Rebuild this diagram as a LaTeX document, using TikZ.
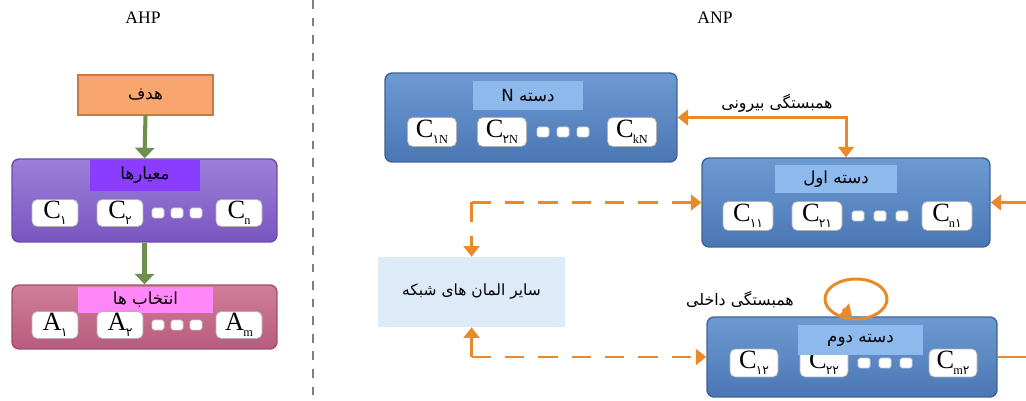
\documentclass[tikz,border=0pt]{standalone}
\usepackage{fontspec}
\setmainfont{Liberation Serif}
\newfontfamily\arabicfont[Script=Arabic]{DejaVu Sans}
\TeXXeTstate=1
\usetikzlibrary{arrows.meta,positioning}

\definecolor{goalfill}{HTML}{F9A66E}
\definecolor{goaldraw}{HTML}{C47C45}
\definecolor{bluetop}{HTML}{6E9AD2}
\definecolor{bluebot}{HTML}{4A77B4}
\definecolor{bluedraw}{HTML}{3D6394}
\definecolor{bluetitle}{HTML}{8DB9EC}
\definecolor{purptop}{HTML}{9C80D8}
\definecolor{purpbot}{HTML}{7A55C2}
\definecolor{purpdraw}{HTML}{6A4AA8}
\definecolor{purptitle}{HTML}{8B3DFF}
\definecolor{pinktop}{HTML}{D07E98}
\definecolor{pinkbot}{HTML}{B95B7D}
\definecolor{pinkdraw}{HTML}{A04D6B}
\definecolor{pinktitle}{HTML}{FF87F7}
\definecolor{otherfill}{HTML}{DDEBF8}
\definecolor{arrgreen}{HTML}{6F8F4F}
\definecolor{arrorange}{HTML}{E98A2A}

\newcommand{\fa}[1]{{\arabicfont\beginR #1\endR}}
\newcommand{\cel}[2]{#1\kern-0.5pt\raisebox{-3.5pt}{\fontsize{7}{7}\selectfont #2}}

\begin{document}
\begin{tikzpicture}[
    x=0.02cm, y=-0.02cm,
    panel/.style={draw, line width=0.8pt, rounded corners=4pt, inner sep=0pt},
    title/.style={inner sep=0pt, font=\fontsize{9.5}{11}\selectfont},
    elem/.style={draw=gray!60, fill=white, rounded corners=3pt, inner sep=0pt,
        minimum width=0.92cm, minimum height=0.54cm, font=\fontsize{15}{15}\selectfont},
    dot/.style={draw=gray!40, fill=white, rounded corners=1pt, inner sep=0pt,
        minimum width=0.24cm, minimum height=0.2cm},
    green arrow/.style={arrgreen, line width=2.3pt, -{Triangle[width=11pt,length=6pt]}},
    orange arrow/.style={arrorange, line width=1.7pt, -{Triangle[width=9pt,length=6pt]}},
    dash arrow/.style={orange arrow, dash pattern=on 11pt off 8pt}
]
    \useasboundingbox (0,0) rectangle (1026,401);

    % Headings and separator
    \node (ahp) at (143,18) {AHP};
    \node (anp) at (715,18) {ANP};
    \coordinate (septop) at (313,0);
    \coordinate (sepbot) at (313,401);
    \draw[gray, line width=1.2pt, dash pattern=on 5pt off 5pt] (septop) -- (sepbot);

    % AHP
    \node[draw=goaldraw, fill=goalfill, line width=0.6pt, minimum width=2.7cm, minimum height=0.8cm,
        font=\fontsize{9.5}{11}\selectfont] (goal) at (145.5,95) {\fa{هدف}};
    \node[panel, draw=purpdraw, top color=purptop, bottom color=purpbot,
        minimum width=5.3cm, minimum height=1.66cm] (crit) at (144.5,200.5) {};
    \node[title, fill=purptitle, minimum width=2.2cm, minimum height=0.62cm] (critT) at (145,175.5) {\fa{معیارها}};
    \node[panel, draw=pinkdraw, top color=pinktop, bottom color=pinkbot,
        minimum width=5.3cm, minimum height=1.28cm] (alt) at (144.5,317) {};
    \node[title, fill=pinktitle, minimum width=2.7cm, minimum height=0.52cm] (altT) at (145.5,300) {\fa{انتخاب ها}};

    \node[elem] (c1) at (55,213) {\cel{C}{\arabicfont ۱}};
    \node[elem] (c2) at (120,213) {\cel{C}{\arabicfont ۲}};
    \node[elem] (cn) at (239,213) {\cel{C}{n}};
    \node[elem] (a1) at (55,325) {\cel{A}{\arabicfont ۱}};
    \node[elem] (a2) at (120,325) {\cel{A}{\arabicfont ۲}};
    \node[elem] (am) at (239,325) {\cel{A}{m}};
    \foreach \x in {158,177,196} {
        \node[dot] (cd\x) at (\x,213) {};
        \node[dot] (ad\x) at (\x,325) {};
    }

    \draw[green arrow] (goal.south) -- (crit.north);
    \draw[green arrow] (crit.south) -- (alt.north);

    % ANP clusters
    \node[panel, draw=bluedraw, top color=bluetop, bottom color=bluebot,
        minimum width=5.84cm, minimum height=1.78cm] (kN) at (531,117.5) {};
    \node[panel, draw=bluedraw, top color=bluetop, bottom color=bluebot,
        minimum width=5.76cm, minimum height=1.78cm] (k1) at (846,202.5) {};
    \node[panel, draw=bluedraw, top color=bluetop, bottom color=bluebot,
        minimum width=5.8cm, minimum height=1.6cm] (k2) at (852,357) {};

    \node[elem, minimum width=0.98cm, minimum height=0.58cm] (c1N) at (432,132) {\cel{C}{{\arabicfont ۱}N}};
    \node[elem, minimum width=0.98cm, minimum height=0.58cm] (c2N) at (502,132) {\cel{C}{{\arabicfont ۲}N}};
    \node[elem, minimum width=0.98cm, minimum height=0.58cm] (ckN) at (632,132) {\cel{C}{kN}};
    \node[elem, minimum width=1cm, minimum height=0.58cm] (c11) at (748,216) {\cel{C}{\arabicfont ۱۱}};
    \node[elem, minimum width=1cm, minimum height=0.58cm] (c21) at (817,216) {\cel{C}{\arabicfont ۲۱}};
    \node[elem, minimum width=1cm, minimum height=0.58cm] (cn1) at (947,216) {\cel{C}{n{\arabicfont ۱}}};
    \node[elem, minimum width=0.96cm, minimum height=0.56cm] (c12) at (754,363) {\cel{C}{\arabicfont ۱۲}};
    \node[elem, minimum width=0.96cm, minimum height=0.56cm] (c22) at (824,363) {\cel{C}{\arabicfont ۲۲}};
    \node[elem, minimum width=0.96cm, minimum height=0.56cm] (cm2) at (953,363) {\cel{C}{m{\arabicfont ۲}}};
    \foreach \a/\b/\c in {543/858/864,563/880/885,583/902/906} {
        \node[dot] (nd\a) at (\a,132) {};
        \node[dot] (od\b) at (\b,216) {};
        \node[dot] (td\c) at (\c,363) {};
    }

    \node[title, fill=bluetitle, minimum width=2.2cm, minimum height=0.58cm] (kNT) at (528,95.5) {\fa{دسته \beginL N\endL}};
    \node[title, fill=bluetitle, minimum width=2.44cm, minimum height=0.56cm] (k1T) at (836,179) {\fa{دسته اول}};
    \node[title, fill=bluetitle, minimum width=2.5cm, minimum height=0.6cm] (k2T) at (860.5,340) {\fa{دسته دوم}};

    % Other network elements
    \node[fill=otherfill, minimum width=3.74cm, minimum height=1.4cm,
        font=\fontsize{8.8}{10}\selectfont] (others) at (471.5,292) {\fa{سایر المان های شبکه}};

    % Outer dependence
    \draw[orange arrow, {Triangle[width=9pt,length=6pt]}-{Triangle[width=9pt,length=6pt]}] (kN.east) -| (k1.north);
    \node[font=\fontsize{9}{10}\selectfont] (outer) at (777,103) {\fa{همبستگی بیرونی}};
    \coordinate (rin) at (1026,202.5);
    \draw[orange arrow] (rin) -- (k1.east);
    \coordinate (rout) at (1026,357);
    \draw[arrorange, line width=1.7pt] (k2.east) -- (rout);

    % Dashed links
    \coordinate (j1) at (others.north |- k1.west);
    \coordinate (j2) at (others.south |- k2.west);
    \draw[dash arrow] (j1) -- (k1.west);
    \draw[dash arrow] (j1) -- (others.north);
    \draw[dash arrow] (j2) -- (k2.west);
    \draw[dash arrow] (j2) -- (others.south);

    % Inner dependence
    \coordinate (loopc) at (856,299);
    \coordinate (loopin) at (843,309);
    \draw[arrorange, line width=1.7pt] (loopc) ellipse [x radius=31, y radius=20];
    \draw[orange arrow] (loopin) -- (k2.north);
    \node[font=\fontsize{9}{10}\selectfont] (inner) at (740,300) {\fa{همبستگی داخلی}};
\end{tikzpicture}
\end{document}
